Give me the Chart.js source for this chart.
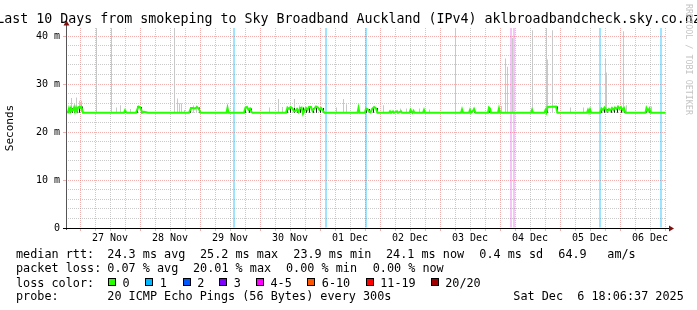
<!DOCTYPE html>
<html><head><meta charset="utf-8">
<script src="https://cdn.jsdelivr.net/npm/chart.js@4/dist/chart.umd.min.js"></script>
<style>
html,body{margin:0;padding:0;background:#fff;overflow:hidden;}
#wrap{position:relative;width:697px;height:310px;overflow:hidden;}
canvas{position:absolute;left:0;top:0;}
.t{position:absolute;white-space:pre;font-family:"DejaVu Sans Mono",monospace;color:#000;}
#title{font-size:13.3px;line-height:16px;top:10.6px;left:348.5px;transform:translateX(-50%);}
.f{font-size:11.8px;line-height:14px;}
.box{position:absolute;width:6px;height:6px;border:1px solid #000;}
#wm{position:absolute;left:684px;top:4px;writing-mode:vertical-rl;font-size:8.4px;line-height:9px;color:#c4c4c4;font-family:"DejaVu Sans Mono",monospace;white-space:pre;}
</style></head>
<body>
<div id="wrap">
<canvas id="c" width="697" height="310"></canvas>
<div id="title" class="t">Last 10 Days from smokeping to Sky Broadband Auckland (IPv4) aklbroadbandcheck.sky.co.nz</div>
<div id="wm">RRDTOOL / TOBI OETIKER</div>
<div id="foot"></div>
</div>
<script>
// ---------- DATA (x = hours since 26 Nov 00:00, y = milliseconds) ----------
const dayLabels = ['27 Nov','28 Nov','29 Nov','30 Nov','01 Dec','02 Dec','03 Dec','04 Dec','05 Dec','06 Dec'];
const yMajorLabels = ['0','10 m','20 m','30 m','40 m'];

const medianHours = [18.4,19.2,19.6,20.0,20.4,20.8,21.2,21.6,22.0,22.4,22.8,23.2,23.6,24.0,24.4,24.8,25.2,
 41.6,42.0,42.4,42.8,46.4,47.0,47.4,48.0,48.6,48.8,49.6,50.4,51.2,
 67.6,68.4,69.2,70.0,70.8,71.6,72.2,82.6,83.0,83.4,
 89.6,90.2,90.8,91.4,92.0,92.6,93.0,
 106.4,107.0,107.6,108.2,108.8,109.6,110.2,110.8,111.4,112.0,112.6,113.2,113.8,114.4,115.0,115.6,116.4,117.0,117.8,118.4,119.2,119.8,120.4,121.2,121.8,
 135.0,135.4,135.8,138.0,138.4,139.0,139.6,140.2,140.8,141.6,142.4,143.0,
 147.6,148.0,148.4,149.2,149.6,150.8,151.2,152.4,152.8,
 155.8,156.2,156.6,157.0,157.4,157.8,161.2,161.6,162.0,
 176.4,176.8,177.2,179.6,180.0,180.4,181.2,181.6,182.2,
 187.2,187.6,188.0,188.4,191.2,191.6,192.0,
 204.4,204.8,205.2,209.8,210.2,210.6,211.0,214.4,215.0,
 226.8,227.2,227.6,228.0,228.4,
 232.0,232.6,233.2,233.8,234.4,235.0,235.6,236.2,236.8,237.4,238.0,238.6,239.2,239.8,240.4,241.0,241.6,242.2,
 250.2,250.6,251.2,251.8,252.2,258.2];
const medianMs = [24.2,24.1,24.9,24.3,25.0,24.4,24.6,25.1,24.3,25.0,24.4,25.1,25.2,25.0,25.3,24.8,24.0,
 24.0,24.5,24.2,24.0,24.0,24.8,25.3,25.2,24.5,24.0,24.2,24.1,24.0,
 24.0,25.0,25.0,24.9,25.2,24.8,24.0,24.0,25.0,24.0,
 24.0,25.1,25.2,24.6,24.9,24.2,24.0,
 24.0,25.1,24.8,25.2,25.0,24.3,24.4,24.8,24.2,25.0,25.1,23.8,24.5,25.0,24.6,25.2,25.2,24.4,24.9,25.3,25.1,24.6,25.0,24.4,24.0,
 24.0,25.0,24.0,24.0,24.9,24.8,24.3,24.1,24.8,25.2,24.9,24.0,
 24.0,24.3,24.0,24.3,24.0,24.3,24.0,24.3,24.0,
 24.0,24.6,24.2,24.0,24.4,24.0,24.0,24.6,24.0,
 24.0,24.7,24.0,24.0,24.6,24.0,24.4,24.8,24.0,
 24.0,25.1,24.9,24.0,24.0,24.9,24.0,
 24.0,24.6,24.0,24.0,24.6,24.1,25.2,25.3,24.0,
 24.0,24.6,24.1,24.7,24.0,
 24.0,24.9,24.6,25.1,24.7,24.3,24.8,24.5,25.0,24.6,25.1,24.8,25.3,24.8,25.2,24.6,25.0,24.0,
 24.0,25.0,24.4,24.9,24.0,24.0];

// light smoke (spread of the 20 pings)
const smokeHours = [20.6,21.8,22.6,23.8,24.6,30.6,36.6,38.6,40.2,44.2,61.8,63.0,63.8,64.6,65.8,69.4,70.6,
 85.4,99.8,103.4,105.0,109.8,111.8,126.6,129.4,130.6,145.4,152.2,154.6,159.8,163.8,174.2,
 192.6,194.2,195.0,197.0,205.0,210.6,211.0,213.0,220.2,225.4,234.2,234.6,241.4,242.6,252.6];
const smokeLo = [24.1,24.1,24.1,24.1,24.1,24.1,24.1,24.0,24.0,24.0,24.1,24.1,24.1,24.1,24.0,24.0,24.0,
 24.0,24.0,24.0,24.0,24.0,24.0,24.0,24.0,24.0,24.0,24.0,24.0,24.0,24.0,24.0,
 24.0,24.0,24.0,24.0,24.0,24.0,24.0,24.0,24.0,24.0,24.0,24.0,24.0,24.0,24.0];
const smokeHi = [27.1,26.0,27.2,26.5,26.5,41.7,41.7,25.1,25.6,24.8,41.7,27.0,26.0,26.0,24.6,25.5,25.5,
 25.1,25.1,26.9,25.2,26.9,25.5,25.1,26.9,25.8,25.6,24.9,24.9,24.9,24.7,41.7,
 25.4,35.3,33.6,39.6,41.2,41.7,35.1,41.2,25.1,25.1,35.3,32.4,41.0,25.6,25.3];

// dark smoke (inner percentiles)
const darkHours = [19.4,20.2,21.0,21.8,23.0,23.8,25.0,42.2,47.0,48.6,68.2,71.8,83.0,90.2,91.8,92.6,
 107.0,108.2,109.8,111.0,112.2,113.4,114.6,115.8,117.4,118.6,120.2,121.4,135.4,138.6,139.8,141.4,143.0,
 156.2,157.4,161.8,177.0,180.2,181.8,187.8,191.8,205.0,210.2,211.0,215.0,227.4,228.2,
 232.6,233.8,235.0,236.6,237.8,239.0,240.6,241.8,250.6,251.8];
const darkLo = [24.0,24.0,24.0,24.0,24.0,24.0,24.0,24.0,24.0,24.0,24.0,24.0,24.0,24.0,24.0,24.0,
 24.0,24.0,24.0,24.0,24.0,23.8,24.0,24.0,24.0,24.0,24.0,24.0,24.0,24.0,24.0,24.0,24.0,
 24.0,24.0,24.0,24.0,24.0,24.0,24.0,24.0,24.0,24.0,24.0,24.0,24.0,24.0,
 24.0,24.0,24.0,24.0,24.0,24.0,24.0,24.0,24.0,24.0];
const darkHi = [25.0,25.2,25.0,25.2,25.1,25.3,25.3,24.6,25.3,25.2,25.1,25.1,25.1,25.2,25.0,24.9,
 25.2,25.2,25.0,24.9,25.1,25.1,25.0,25.2,25.0,25.3,25.0,25.0,25.2,24.9,24.8,25.2,25.0,
 24.6,24.5,24.6,24.7,24.6,24.8,25.1,24.9,24.6,24.6,25.2,25.3,24.6,24.7,
 24.9,25.1,24.8,25.0,25.1,25.3,25.2,25.0,25.0,24.9];

// packet loss events (lost pings out of 20)
const lossHours = [85.6,122.4,138.4,196.4,197.6,232.0,256.4];
const lossCount = [1,1,1,4,4,1,1];

// loss colour legend
const lossLabels = ['0','1','2','3','4-5','6-10','11-19','20/20'];
const lossUpper  = [0,1,2,3,5,10,19,20];
const lossColors = ['#26ff00','#00b8ff','#0059ff','#7e00ff','#ff00ff','#ff5500','#ff0000','#a10000'];
const lossBg     = ['rgba(38,255,0,0.4)','rgba(0,184,255,0.38)','rgba(0,89,255,0.38)','rgba(126,0,255,0.3)','rgba(225,60,225,0.3)','rgba(255,85,0,0.35)','rgba(255,0,0,0.35)','rgba(161,0,0,0.35)'];

// ---------- CHART ----------
const X_MIN = 18.4, X_MAX = 258.4, Y_MIN = 0, Y_MAX = 41.67;
const MONO = '"DejaVu Sans Mono", monospace';
const lossIdx = n => lossUpper.findIndex(u => n <= u);
const toXY = (xs, ys) => xs.map((x, i) => ({x, y: ys[i]}));
const toRange = (xs, lo, hi) => xs.map((x, i) => ({x, y: [lo[i], hi[i]]}));
const xTickHours = []; for (let h = 24; h <= X_MAX; h += 6) xTickHours.push(h);
const yTickVals = []; for (let v = 0; v <= 40; v += 2) yTickVals.push(v);

const RED = 'rgba(235,120,120,0.6)', GRAY = 'rgba(150,150,150,0.5)';

const axesPlugin = {
  id: 'rrdAxes',
  afterDatasetsDraw(chart) {
    const {ctx, chartArea: {left, top, right, bottom}} = chart;
    ctx.save();
    ctx.lineWidth = 1;
    ctx.strokeStyle = '#555';
    ctx.beginPath(); ctx.moveTo(left + 0.5, bottom + 2); ctx.lineTo(left + 0.5, top - 3); ctx.stroke();
    ctx.strokeStyle = '#000';
    ctx.beginPath(); ctx.moveTo(left - 3, bottom + 0.5); ctx.lineTo(right + 3, bottom + 0.5); ctx.stroke();
    ctx.fillStyle = '#7f1010';
    ctx.beginPath(); ctx.moveTo(left + 0.5, top - 7.5); ctx.lineTo(left - 2.5, top - 2.5); ctx.lineTo(left + 3.5, top - 2.5); ctx.closePath(); ctx.fill();
    ctx.beginPath(); ctx.moveTo(right + 8, bottom + 0.5); ctx.lineTo(right + 3, bottom - 2.5); ctx.lineTo(right + 3, bottom + 3.5); ctx.closePath(); ctx.fill();
    ctx.restore();
  }
};

new Chart(document.getElementById('c'), {
  type: 'bar',
  data: {
    datasets: [
      { type: 'line', label: 'median', data: toXY(medianHours, medianMs), borderColor: lossColors[0],
        borderWidth: 2, pointRadius: 0, tension: 0, order: 0 },
      { label: 'dark smoke', data: toRange(darkHours, darkLo, darkHi), backgroundColor: '#1e1e1e',
        barThickness: 1, stack: 's', order: 1, inflateAmount: 0, borderWidth: 0 },
      { label: 'smoke', data: toRange(smokeHours, smokeLo, smokeHi), backgroundColor: '#c8c8c8',
        barThickness: 1, stack: 's', order: 2, inflateAmount: 0, borderWidth: 0 },
      { label: 'loss', data: lossHours.map(x => ({x, y: [Y_MIN, Y_MAX]})),
        backgroundColor: lossCount.map(n => lossBg[lossIdx(n)]),
        barThickness: 2, stack: 's', order: 3, inflateAmount: 0, borderWidth: 0 }
    ]
  },
  options: {
    responsive: false, animation: false, devicePixelRatio: 1,
    layout: { padding: { left: 0, top: 28, right: 31, bottom: 0 } },
    plugins: { legend: { display: false }, tooltip: { enabled: false }, title: { display: false } },
    scales: {
      x: {
        type: 'linear', min: X_MIN, max: X_MAX, offset: false,
        grid: { offset: false, lineWidth: 1, drawTicks: true, tickLength: 3, tickBorderDash: [],
          color: c => (c.tick && c.tick.value % 24 === 0) ? RED : GRAY,
          tickColor: c => (c.tick && c.tick.value % 24 === 0) ? RED : GRAY },
        border: { display: false, dash: [1, 1] },
        ticks: { autoSkip: false, maxRotation: 0, minRotation: 0, padding: 1, color: '#000',
          font: { family: MONO, size: 10 },
          callback: v => (v % 24 === 12) ? dayLabels[(v - 36) / 24] : '' },
        afterBuildTicks: s => { s.ticks = xTickHours.map(v => ({value: v})); },
        afterFit: s => { s.height = 82; }
      },
      y: {
        type: 'linear', min: Y_MIN, max: Y_MAX, stacked: false,
        grid: { lineWidth: 1, drawTicks: true, tickLength: 3, tickBorderDash: [],
          color: c => (!c.tick || c.tick.value === 0) ? 'rgba(0,0,0,0)' : (c.tick.value % 10 === 0 ? RED : GRAY),
          tickColor: c => (c.tick && c.tick.value % 10 === 0 && c.tick.value !== 0) ? RED : 'rgba(0,0,0,0)' },
        border: { display: false, dash: [1, 1] },
        ticks: { autoSkip: false, padding: 3, color: '#000', font: { family: MONO, size: 10 },
          callback: v => (v % 10 === 0) ? yMajorLabels[v / 10] : '' },
        title: { display: true, text: 'Seconds', color: '#000', font: { family: MONO, size: 11 }, padding: { top: 4, bottom: 0 } },
        afterBuildTicks: s => { s.ticks = yTickVals.map(v => ({value: v})); },
        afterFit: s => { s.width = 66; }
      }
    }
  },
  plugins: [axesPlugin]
});

// ---------- FOOTER TEXT ----------
const foot = document.getElementById('foot');
function put(x, y, txt) {
  const d = document.createElement('div');
  d.className = 't f'; d.style.left = x + 'px'; d.style.top = y + 'px'; d.textContent = txt;
  foot.appendChild(d);
}
const rows = [
  [247, [[16,'median rtt:'],[107.3,'24.3 ms avg'],[200,'25.2 ms max'],[293.3,'23.9 ms min'],[386,'24.1 ms now'],[479.3,'0.4 ms sd'],[558.3,'64.9'],[607.3,'am/s']]],
  [261, [[16,'packet loss:'],[107.3,'0.07 % avg'],[193,'20.01 % max'],[286,'0.00 % min'],[372.7,'0.00 % now']]],
  [275.5, [[16,'loss color:']]],
  [289, [[16,'probe:'],[107.3,'20 ICMP Echo Pings (56 Bytes) every 300s'],[513.3,'Sat Dec  6 18:06:37 2025']]]
];
rows.forEach(([y, items]) => items.forEach(([x, t]) => put(x, y, t)));
const legendBoxX = [108, 145.3, 182.7, 219.3, 256, 307.3, 365.7, 430.7];
lossLabels.forEach((lab, i) => {
  const b = document.createElement('div');
  b.className = 'box'; b.style.left = legendBoxX[i] + 'px'; b.style.top = '278px'; b.style.background = lossColors[i];
  foot.appendChild(b);
  put(legendBoxX[i] + 14.5, 275.5, lab);
});
</script>
</body></html>
